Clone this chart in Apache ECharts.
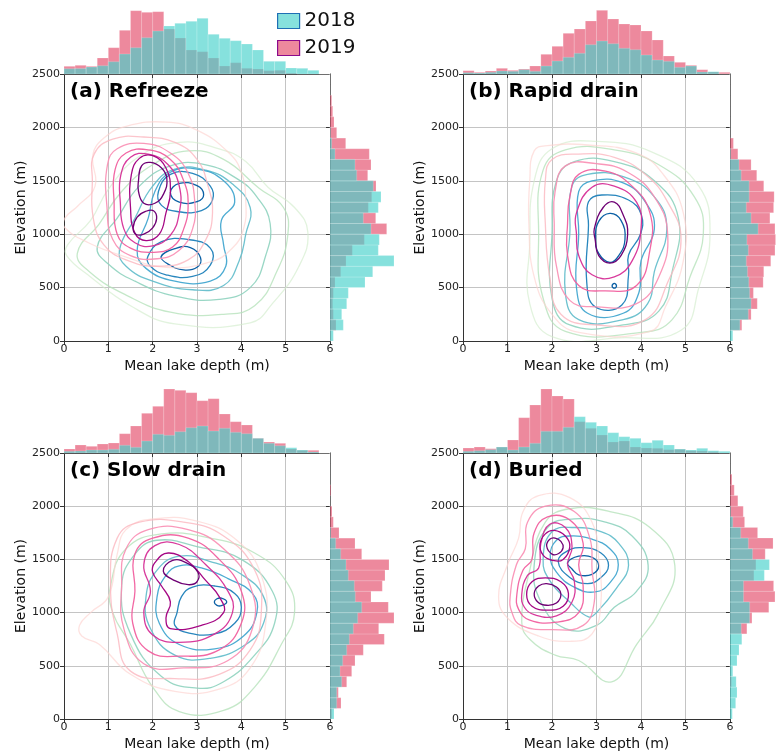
<!DOCTYPE html>
<html><head><meta charset="utf-8">
<script src="https://cdn.jsdelivr.net/npm/echarts@6/dist/echarts.min.js"></script>
<style>html,body{margin:0;padding:0;background:#fff}#c{width:784px;height:755px}</style>
</head><body><div id="c"></div>
<script>
// ---- bins ----
const depthEdges = [0,0.25,0.5,0.75,1,1.25,1.5,1.75,2,2.25,2.5,2.75,3,3.25,3.5,3.75,4,4.25,4.5,4.75,5,5.25,5.5,5.75,6];
const elevEdges = [0,100,200,300,400,500,600,700,800,900,1000,1100,1200,1300,1400,1500,1600,1700,1800,1900,2000,2100,2200,2300,2400,2500];
const xTicks = [0,1,2,3,4,5,6];
const yTicks = [0,500,1000,1500,2000,2500];
const panelTitles = ['(a) Refreeze','(b) Rapid drain','(c) Slow drain','(d) Buried'];

// ---- marginal histograms (relative counts) ----
const refreezeDepth2018 = [5.3,5.5,7,8.3,12.3,20,26.3,36.3,43,48,50.7,52.7,55.7,39.7,35.7,33.3,30,24,12.7,12.7,6,5.7,3.7,0];
const refreezeDepth2019 = [7.7,8.7,7.7,16,26.3,43.7,63.3,61.7,62.3,45,36,24,22.3,16,8,11.3,5.7,5,3.3,3.7,1,0,0,0];
const refreezeElev2018 = [3.3,13.3,11.7,16.7,18.3,35,42.7,64,48.3,49.3,41,33.3,48.3,51,43.3,26.7,25,5,1.7,0.5,0,0,0,0,0];
const refreezeElev2019 = [1,6,3.3,2.7,3.3,5,10.7,16,22.3,34.3,56.7,45.7,38.3,41.7,46,37.7,41,39.3,15.7,6.7,4,2.7,1.7,0,0];

const rapidDepth2018 = [1.3,1,1.7,3,2.7,4.3,2.7,8,13,16.7,20.7,29.3,33,30.3,25.7,24.3,19,14,12.7,6.7,8,2,2.3,0];
const rapidDepth2019 = [3.3,1.7,3,5.7,3.7,5,8,19.7,27.7,40.7,45,53,63.7,55,50,49,43,34,18,11.7,8.7,4.3,2,1.7];
const rapidElev2018 = [3.3,11.7,21.7,25,23.3,22.3,20.7,19.3,21.7,20,33.3,25,19.3,22.7,22.7,13.3,10.7,0.7,0,0,0,0,0,0,0];
const rapidElev2019 = [0,14,25,32.3,27.7,39.3,40,48.3,53.3,54,53.3,47.3,51.7,52.3,40,31.7,25,9.3,4,0,0,0,0,0,0];

const slowDepth2018 = [1.7,2,3,3,3.7,7.7,5.7,12,18.7,17.7,21.3,25.3,27,22,24.7,20.7,19.3,14.7,9.7,7.3,5.3,3,1,0];
const slowDepth2019 = [4,8,6.7,9,10,19.3,27,39.7,46.7,64,62.7,60.3,52.3,54.3,39,31.3,28,14.7,11,9.7,4,2.7,2.7,0];
const slowElev2018 = [4,6.7,6.7,11.7,10,12.7,16.7,19.3,23.3,27.7,31.7,25.3,24.3,18.3,16,10.7,5.7,0.7,0,0,0,0,0,0,0];
const slowElev2019 = [1.7,11,8.3,16.7,21.7,25,33.3,54.3,48.7,64,58.3,41,52.3,55,59,31.7,25,9,3.3,2,0,1,0,0,0];

const buriedDepth2018 = [1.7,2.3,3.3,6,3,6,9.7,21.7,21.7,25.7,36.3,30.7,27,20.3,16.3,14.7,10.3,12.7,8,4,3,4.7,2.3,1.7];
const buriedDepth2019 = [5,6,4.3,6,13,35.3,48,64,57,54,31.3,24.7,18,11,12,6,5,4.7,3.3,3.7,2.3,2,1.3,0];
const buriedElev2018 = [2.7,6.7,8.3,7.3,3.3,8.3,10.7,14,13.3,23.3,23.3,16,16,40.7,46.7,26.7,21.7,12.7,3.3,0.7,0,0,0,0,0];
const buriedElev2019 = [0,0,0,1.7,0,0,0,0,20,26,46,53.3,51.7,28.3,30.7,41.7,51,32.7,17.3,15.7,9.3,5,2.3,0,0];

// ---- KDE contour lines: [level, [[depth, elevation], ...]] ----
const refreeze2018 = [
 [0,[[0.08,900],[0.6,1130],[1.0,1420],[1.7,1730],[2.6,1860],[3.5,1800],[4.1,1680],[4.6,1440],[5.2,1250],[5.5,1020],[5.3,700],[4.7,350],[4.2,170],[2.5,160],[1.5,330],[0.6,600],[0.06,800]]],
 [1,[[0.3,820],[0.8,1100],[1.3,1400],[2.0,1650],[2.8,1780],[3.6,1700],[4.4,1430],[4.95,1250],[5.05,1000],[4.8,650],[4.3,330],[3.6,250],[2.4,270],[1.4,430],[0.6,640]]],
 [2,[[0.75,880],[1.2,1150],[1.7,1450],[2.4,1640],[3.2,1650],[3.9,1520],[4.35,1350],[4.65,1100],[4.55,800],[4.2,500],[3.5,390],[2.5,420],[1.6,560],[1.0,720]]],
 [3,[[1.25,850],[1.6,1150],[2.0,1450],[2.5,1610],[3.2,1600],[3.8,1470],[4.2,1250],[4.1,1000],[3.95,750],[3.6,520],[2.9,480],[2.0,560],[1.4,700]]],
 [4,[[1.65,850],[1.9,1150],[2.05,1400],[2.4,1580],[3.0,1610],[3.6,1500],[3.85,1300],[3.55,1130],[3.6,900],[3.65,700],[3.3,560],[2.5,560],[1.85,680]]],
 [5,[[2.13,1400],[2.4,1560],[2.9,1570],[3.3,1450],[3.35,1320],[3.1,1220],[2.6,1210],[2.2,1270]]],
 [5,[[1.89,790],[2.2,930],[2.8,950],[3.3,870],[3.3,710],[2.9,605],[2.3,620],[1.95,700]]],
 [6,[[2.4,1390],[2.6,1475],[3.0,1455],[3.15,1370],[3.0,1305],[2.6,1300]]],
 [6,[[2.19,790],[2.5,865],[2.85,875],[3.08,780],[3.0,690],[2.7,665],[2.35,720]]]
];
const refreeze2019 = [
 [0,[[0.02,1150],[0.3,1260],[0.7,1450],[0.65,1740],[0.9,1900],[1.4,2010],[2.3,2050],[3.0,1975],[3.7,1770],[4.0,1580],[4.1,1310],[4.05,1050],[3.8,870],[3.3,740],[2.3,690],[1.3,800],[0.55,920],[0.02,1060]]],
 [1,[[0.68,1750],[1.1,1890],[1.8,1910],[2.5,1860],[3.0,1700],[3.25,1450],[3.35,1200],[3.2,950],[2.8,760],[2.1,700],[1.4,760],[0.9,900],[0.66,1150],[0.64,1500]]],
 [2,[[0.98,1650],[1.2,1800],[1.8,1850],[2.4,1760],[2.8,1570],[2.95,1300],[2.9,1050],[2.6,850],[2.1,770],[1.5,800],[1.1,950],[0.97,1250]]],
 [3,[[1.15,1600],[1.4,1760],[1.9,1790],[2.4,1700],[2.7,1500],[2.8,1280],[2.7,1050],[2.45,880],[2.0,830],[1.5,870],[1.2,1000],[1.13,1300]]],
 [4,[[1.28,1550],[1.5,1720],[1.9,1750],[2.35,1650],[2.6,1450],[2.6,1200],[2.4,990],[2.0,890],[1.6,920],[1.35,1050],[1.27,1300]]],
 [5,[[1.52,1560],[1.7,1710],[2.0,1735],[2.3,1620],[2.4,1400],[2.3,1200],[2.15,1000],[1.85,940],[1.6,1010],[1.5,1250]]],
 [6,[[1.68,1500],[1.75,1640],[1.95,1672],[2.2,1620],[2.32,1520],[2.25,1380],[2.05,1290],[1.8,1290],[1.68,1400]]],
 [6,[[1.56,1060],[1.65,1160],[1.85,1215],[2.02,1220],[2.09,1150],[2.0,1060],[1.8,1000],[1.62,1000]]]
];
const rapid2018 = [
 [0,[[1.5,900],[1.6,1500],[2.0,1800],[3.0,1870],[4.3,1760],[5.3,1450],[5.55,1000],[5.3,500],[4.9,100],[3.5,30],[2.0,40],[1.5,350]]],
 [1,[[1.7,1000],[1.8,1600],[2.3,1790],[3.4,1790],[4.4,1650],[5.2,1350],[5.4,1000],[5.1,600],[4.7,200],[4.0,80],[2.3,90],[1.8,400]]],
 [2,[[2.0,1000],[2.1,1500],[2.5,1680],[3.4,1680],[4.3,1500],[4.84,1150],[4.7,650],[4.4,280],[3.6,150],[2.4,150],[2.0,400]]],
 [3,[[2.4,1000],[2.45,1450],[2.8,1560],[3.6,1540],[4.3,1350],[4.58,1050],[4.3,650],[4.15,350],[3.6,200],[2.6,200],[2.3,450]]],
 [4,[[2.6,1000],[2.6,1400],[2.9,1500],[3.6,1480],[4.1,1300],[4.3,1050],[4.0,750],[3.95,450],[3.6,260],[2.8,260],[2.55,500]]],
 [5,[[2.82,1086],[2.82,1304],[3.12,1367],[3.72,1320],[4.01,1179],[3.98,992],[3.72,805],[3.72,618],[3.57,337],[2.97,321],[2.78,555]]],
 [6,[[2.98,960],[3.05,1120],[3.3,1195],[3.55,1130],[3.64,950],[3.5,800],[3.3,736],[3.05,820]]],
 [6,[[3.35,515],[3.4,540],[3.45,515],[3.4,495]]]
];
const rapid2019 = [
 [0,[[1.5,1500],[1.6,1780],[1.9,1830],[2.8,1835],[3.9,1760],[4.5,1560],[4.95,1200],[4.95,750],[4.55,320],[4.2,90],[2.6,80],[2.0,250],[1.6,600],[1.48,1100]]],
 [1,[[1.85,1500],[2.0,1700],[2.6,1750],[3.4,1720],[4.1,1560],[4.6,1300],[4.9,950],[4.6,550],[4.1,200],[3.0,150],[2.2,250],[1.95,600],[1.85,1100]]],
 [2,[[2.07,1400],[2.3,1640],[3.0,1660],[3.7,1580],[4.3,1350],[4.6,1000],[4.4,600],[3.9,350],[3.0,320],[2.4,380],[2.1,700],[2.05,1100]]],
 [3,[[2.4,1350],[2.6,1560],[3.2,1590],[3.8,1450],[4.2,1200],[4.2,850],[3.9,520],[3.2,470],[2.6,520],[2.35,800],[2.35,1100]]],
 [4,[[2.55,1200],[2.9,1440],[3.4,1450],[3.9,1300],[4.0,1050],[3.8,750],[3.4,600],[2.9,620],[2.6,800],[2.55,1000]]],
 [6,[[2.95,1050],[3.15,1250],[3.4,1300],[3.6,1180],[3.7,1000],[3.55,800],[3.3,730],[3.05,800],[2.97,950]]]
];
const slow2018 = [
 [1,[[1.05,1250],[1.4,1600],[2.2,1740],[3.3,1700],[4.3,1560],[5.0,1300],[5.2,1000],[4.9,700],[4.3,300],[3.6,80],[2.6,70],[2.0,300],[1.5,700],[1.1,1000]]],
 [2,[[1.3,1250],[1.6,1550],[2.1,1680],[3.0,1620],[4.0,1500],[4.7,1200],[4.75,900],[4.3,600],[3.6,350],[3.0,290],[2.2,400],[1.5,800]]],
 [3,[[1.85,1150],[2.1,1400],[2.6,1530],[3.3,1480],[4.0,1360],[4.5,1150],[4.5,900],[4.1,700],[3.3,570],[2.5,600],[1.95,850]]],
 [4,[[2.1,1150],[2.3,1350],[2.6,1440],[3.1,1420],[3.7,1320],[4.25,1180],[4.35,1000],[4.05,780],[3.4,660],[2.6,700],[2.15,900]]],
 [5,[[2.55,1000],[2.65,1150],[2.9,1240],[3.4,1250],[3.85,1180],[4.0,1050],[3.85,900],[3.4,800],[2.8,810],[2.5,880]]],
 [6,[[3.39,1100],[3.45,1130],[3.55,1135],[3.67,1100],[3.55,1065],[3.45,1068]]]
];
const slow2019 = [
 [0,[[0.35,880],[0.6,1000],[1.0,1150],[1.2,1550],[1.4,1780],[2.0,1880],[3.0,1860],[3.9,1680],[4.45,1350],[4.55,900],[4.2,480],[3.5,280],[2.5,260],[1.5,420],[0.8,700],[0.4,780]]],
 [1,[[1.2,1700],[1.7,1850],[2.7,1850],[3.6,1720],[4.3,1400],[4.45,1000],[4.2,650],[3.5,420],[2.5,380],[1.5,450],[1.2,800],[1.05,1250]]],
 [2,[[1.4,1600],[1.9,1780],[2.8,1780],[3.6,1600],[4.2,1250],[4.25,850],[3.7,550],[2.7,480],[1.8,520],[1.35,850],[1.3,1250]]],
 [3,[[1.6,1550],[2.0,1700],[2.8,1700],[3.5,1500],[4.0,1200],[4.0,900],[3.5,650],[2.6,590],[1.9,640],[1.55,900],[1.6,1200]]],
 [4,[[1.8,1450],[2.05,1630],[2.6,1640],[3.2,1450],[3.7,1200],[3.8,1000],[3.4,800],[2.6,720],[2.0,790],[1.8,1000],[1.95,1200]]],
 [5,[[2.05,1470],[2.35,1560],[2.8,1480],[3.2,1300],[3.5,1150],[3.6,1000],[3.1,880],[2.4,850],[2.3,950],[2.4,1100],[2.2,1250],[2.0,1380]]],
 [6,[[2.24,1390],[2.45,1490],[2.75,1470],[3.02,1380],[3.0,1290],[2.8,1262],[2.5,1300]]]
];
const buried2018 = [
 [1,[[1.32,913],[1.5,1400],[1.85,1850],[2.4,1976],[3.3,1950],[4.2,1800],[4.76,1445],[4.4,1000],[3.9,700],[3.34,350],[2.6,550],[2.07,600],[1.5,750]]],
 [2,[[1.6,1450],[1.9,1800],[2.5,1880],[3.2,1850],[3.8,1720],[4.16,1445],[3.9,1200],[3.4,1050],[3.0,880],[2.3,850],[1.75,1100]]],
 [3,[[1.8,1500],[2.0,1760],[2.5,1800],[3.1,1760],[3.5,1650],[3.72,1445],[3.45,1230],[3.0,1000],[2.82,960],[2.4,1100],[1.95,1300]]],
 [4,[[1.96,1538],[2.1,1680],[2.4,1720],[2.9,1690],[3.3,1600],[3.49,1450],[3.3,1280],[2.97,1194],[2.5,1240],[2.1,1380]]],
 [5,[[2.14,1480],[2.35,1580],[2.7,1610],[3.1,1560],[3.27,1445],[3.1,1330],[2.8,1273],[2.4,1330]]],
 [6,[[2.35,1470],[2.6,1530],[2.9,1520],[3.05,1440],[2.9,1360],[2.6,1355],[2.45,1410]]]
];
const buried2019 = [
 [0,[[0.8,1150],[1.0,1450],[1.25,1700],[1.35,1950],[1.7,2100],[2.4,2080],[2.9,1850],[3.05,1500],[3.1,1100],[2.9,800],[2.4,730],[1.7,780],[1.0,950]]],
 [2,[[1.06,1150],[1.2,1450],[1.4,1600],[1.45,1850],[1.85,2000],[2.5,1950],[2.85,1700],[2.9,1400],[2.95,1100],[2.7,880],[2.0,840],[1.3,880],[1.1,1000]]],
 [3,[[1.21,1170],[1.35,1400],[1.55,1500],[1.6,1750],[1.9,1900],[2.4,1870],[2.7,1650],[2.6,1450],[2.7,1250],[2.6,1000],[2.1,910],[1.5,930],[1.25,1030]]],
 [4,[[1.32,1170],[1.45,1350],[1.7,1420],[1.75,1650],[1.95,1830],[2.3,1800],[2.45,1620],[2.35,1450],[2.5,1300],[2.45,1100],[2.1,970],[1.6,980],[1.38,1050]]],
 [5,[[1.43,1170],[1.55,1290],[1.85,1326],[2.2,1290],[2.37,1180],[2.25,1060],[1.9,1023],[1.55,1060]]],
 [5,[[1.73,1640],[1.85,1740],[2.05,1773],[2.3,1720],[2.4,1620],[2.25,1500],[2.0,1492],[1.8,1540]]],
 [6,[[1.6,1180],[1.7,1250],[1.88,1273],[2.1,1240],[2.2,1170],[2.1,1090],[1.88,1069],[1.68,1100]]],
 [6,[[1.88,1626],[1.95,1690],[2.07,1701],[2.2,1670],[2.25,1610],[2.15,1555],[2.0,1550]]]
];

// ---- styles ----
const gnbu = ['#d3edcc','#b6e2bb','#8fd3bf','#66bfcc','#42a6d0','#2886bd','#0b60a5'];
const rdpu = ['#fdd3cf','#fbb6bf','#f98db2','#f1609f','#d62f97','#a50784','#6e0174'];
const levelOpacity = [0.65,0.8,0.9,0.95,0.95,1,1];
const fill18 = 'rgba(72,209,204,0.66)';
const fill19 = 'rgba(220,20,60,0.5)';
const layout = [
 {left:64, top:74, w:266, h:267},
 {left:463, top:74, w:267, h:267},
 {left:64, top:453, w:266, h:266},
 {left:463, top:453, w:267, h:266}
];
const MARG = 64;

const panelData = [
 {d18:refreezeDepth2018, d19:refreezeDepth2019, e18:refreezeElev2018, e19:refreezeElev2019, c18:refreeze2018, c19:refreeze2019},
 {d18:rapidDepth2018, d19:rapidDepth2019, e18:rapidElev2018, e19:rapidElev2019, c18:rapid2018, c19:rapid2019},
 {d18:slowDepth2018, d19:slowDepth2019, e18:slowElev2018, e19:slowElev2019, c18:slow2018, c19:slow2019},
 {d18:buriedDepth2018, d19:buriedDepth2019, e18:buriedElev2018, e19:buriedElev2019, c18:buried2018, c19:buried2019}
];

const FONT = 'DejaVu Sans';
const grid = [], xAxis = [], yAxis = [], series = [], titles = [];
const axisLineStyle = {color:'#333', width:1};
const plain = v => String(v);

function topRender(color){
  return function(params, api){
    const a = api.coord([api.value(0), api.value(2)]);
    const b = api.coord([api.value(1), 0]);
    return {type:'rect', shape:{x:a[0], y:a[1], width:b[0]-a[0], height:b[1]-a[1]},
      style:{fill:color, stroke:'rgba(255,255,255,0.35)', lineWidth:0.5}};
  };
}
function rightRender(color){
  return function(params, api){
    const a = api.coord([0, api.value(2)]);
    const b = api.coord([api.value(0), api.value(1)]);
    return {type:'rect', shape:{x:a[0], y:a[1], width:b[0]-a[0], height:b[1]-a[1]},
      style:{fill:color, stroke:'rgba(255,255,255,0.35)', lineWidth:0.5}};
  };
}
// closed smoothed contour ring drawn through the axis scales
function ringRender(pts, color, opacity){
  return function(params, api){
    if (params.dataIndex !== 0) return null;
    return {type:'polygon',
      shape:{points: pts.map(pt => api.coord(pt)), smooth:0.45},
      style:{fill:null, stroke:color, lineWidth:1.3, opacity:opacity}};
  };
}

layout.forEach((L, p) => {
  const base = p*3;
  grid.push({left:L.left, top:L.top, width:L.w, height:L.h});
  grid.push({left:L.left, top:L.top-MARG, width:L.w, height:MARG});
  grid.push({left:L.left+L.w, top:L.top, width:MARG, height:L.h});

  xAxis.push({gridIndex:base, type:'value', min:xTicks[0], max:xTicks[xTicks.length-1], interval:1,
    axisLine:{show:true, lineStyle:axisLineStyle}, axisTick:{show:true, length:4, lineStyle:axisLineStyle},
    axisLabel:{fontSize:11, color:'#222', margin:3, fontFamily:FONT, formatter:plain},
    splitLine:{show:true, lineStyle:{color:'#c4c4c4', width:1}},
    name:'Mean lake depth (m)', nameLocation:'middle', nameGap:18,
    nameTextStyle:{fontSize:14, color:'#111', fontFamily:FONT}});
  yAxis.push({gridIndex:base, type:'value', min:yTicks[0], max:yTicks[yTicks.length-1], interval:500,
    axisLine:{show:true, lineStyle:axisLineStyle}, axisTick:{show:true, length:4, lineStyle:axisLineStyle},
    axisLabel:{fontSize:11, color:'#222', margin:4, fontFamily:FONT, formatter:plain},
    splitLine:{show:true, lineStyle:{color:'#c4c4c4', width:1}},
    name:'Elevation (m)', nameLocation:'middle', nameGap:35,
    nameTextStyle:{fontSize:14, color:'#111', fontFamily:FONT}});

  xAxis.push({gridIndex:base+1, type:'value', min:0, max:6, interval:1,
    axisLine:{show:true, lineStyle:axisLineStyle}, axisTick:{show:true, length:4, lineStyle:axisLineStyle},
    axisLabel:{show:false}, splitLine:{show:false}});
  yAxis.push({gridIndex:base+1, type:'value', min:0, max:MARG, show:false});

  xAxis.push({gridIndex:base+2, type:'value', min:0, max:MARG, show:false});
  yAxis.push({gridIndex:base+2, type:'value', min:0, max:2500, interval:500,
    axisLine:{show:true, lineStyle:axisLineStyle}, axisTick:{show:true, length:4, lineStyle:axisLineStyle},
    axisLabel:{show:false}, splitLine:{show:false}});

  titles.push({text:panelTitles[p], left:L.left+1, top:L.top+3,
    textStyle:{fontSize:20, fontWeight:'bold', color:'#000', fontFamily:FONT}});

  const D = panelData[p];
  [['2019', D.d19, D.e19, fill19], ['2018', D.d18, D.e18, fill18]].forEach(([yr, dv, ev, col]) => {
    series.push({type:'custom', name:yr, xAxisIndex:base+1, yAxisIndex:base+1,
      renderItem:topRender(col), encode:{x:[0,1], y:2}, silent:true, z:2,
      data: dv.map((v,i)=>[depthEdges[i], depthEdges[i+1], v])});
    series.push({type:'custom', name:yr, xAxisIndex:base+2, yAxisIndex:base+2,
      renderItem:rightRender(col), encode:{x:0, y:[1,2]}, silent:true, z:2,
      data: ev.map((v,i)=>[v, elevEdges[i], elevEdges[i+1]])});
  });
  [[D.c18, gnbu, 'kde2018'], [D.c19, rdpu, 'kde2019']].forEach(([set, cmap, nm]) => {
    set.forEach(([lv, pts]) => {
      series.push({type:'custom', name:nm, xAxisIndex:base, yAxisIndex:base,
        renderItem:ringRender(pts, cmap[lv], levelOpacity[lv]), encode:{x:0, y:1},
        data: pts, silent:true, z:3, clip:true});
    });
  });
});

const chart = echarts.init(document.getElementById('c'), null, {renderer:'canvas'});
chart.setOption({
  animation:false,
  textStyle:{fontFamily:FONT},
  title: titles,
  legend:{
    orient:'vertical', left:277, top:11, itemWidth:22, itemHeight:15, itemGap:7, padding:0,
    icon:'rect', textStyle:{fontSize:20, color:'#111', fontFamily:FONT},
    data:[
      {name:'2018', itemStyle:{color:'rgba(72,209,204,0.66)', borderColor:'#1f6fb4', borderWidth:1.2}},
      {name:'2019', itemStyle:{color:'rgba(220,20,60,0.5)', borderColor:'#8b0a8b', borderWidth:1.2}}
    ],
    selectedMode:false
  },
  grid, xAxis, yAxis, series
});
</script>
</body></html>
